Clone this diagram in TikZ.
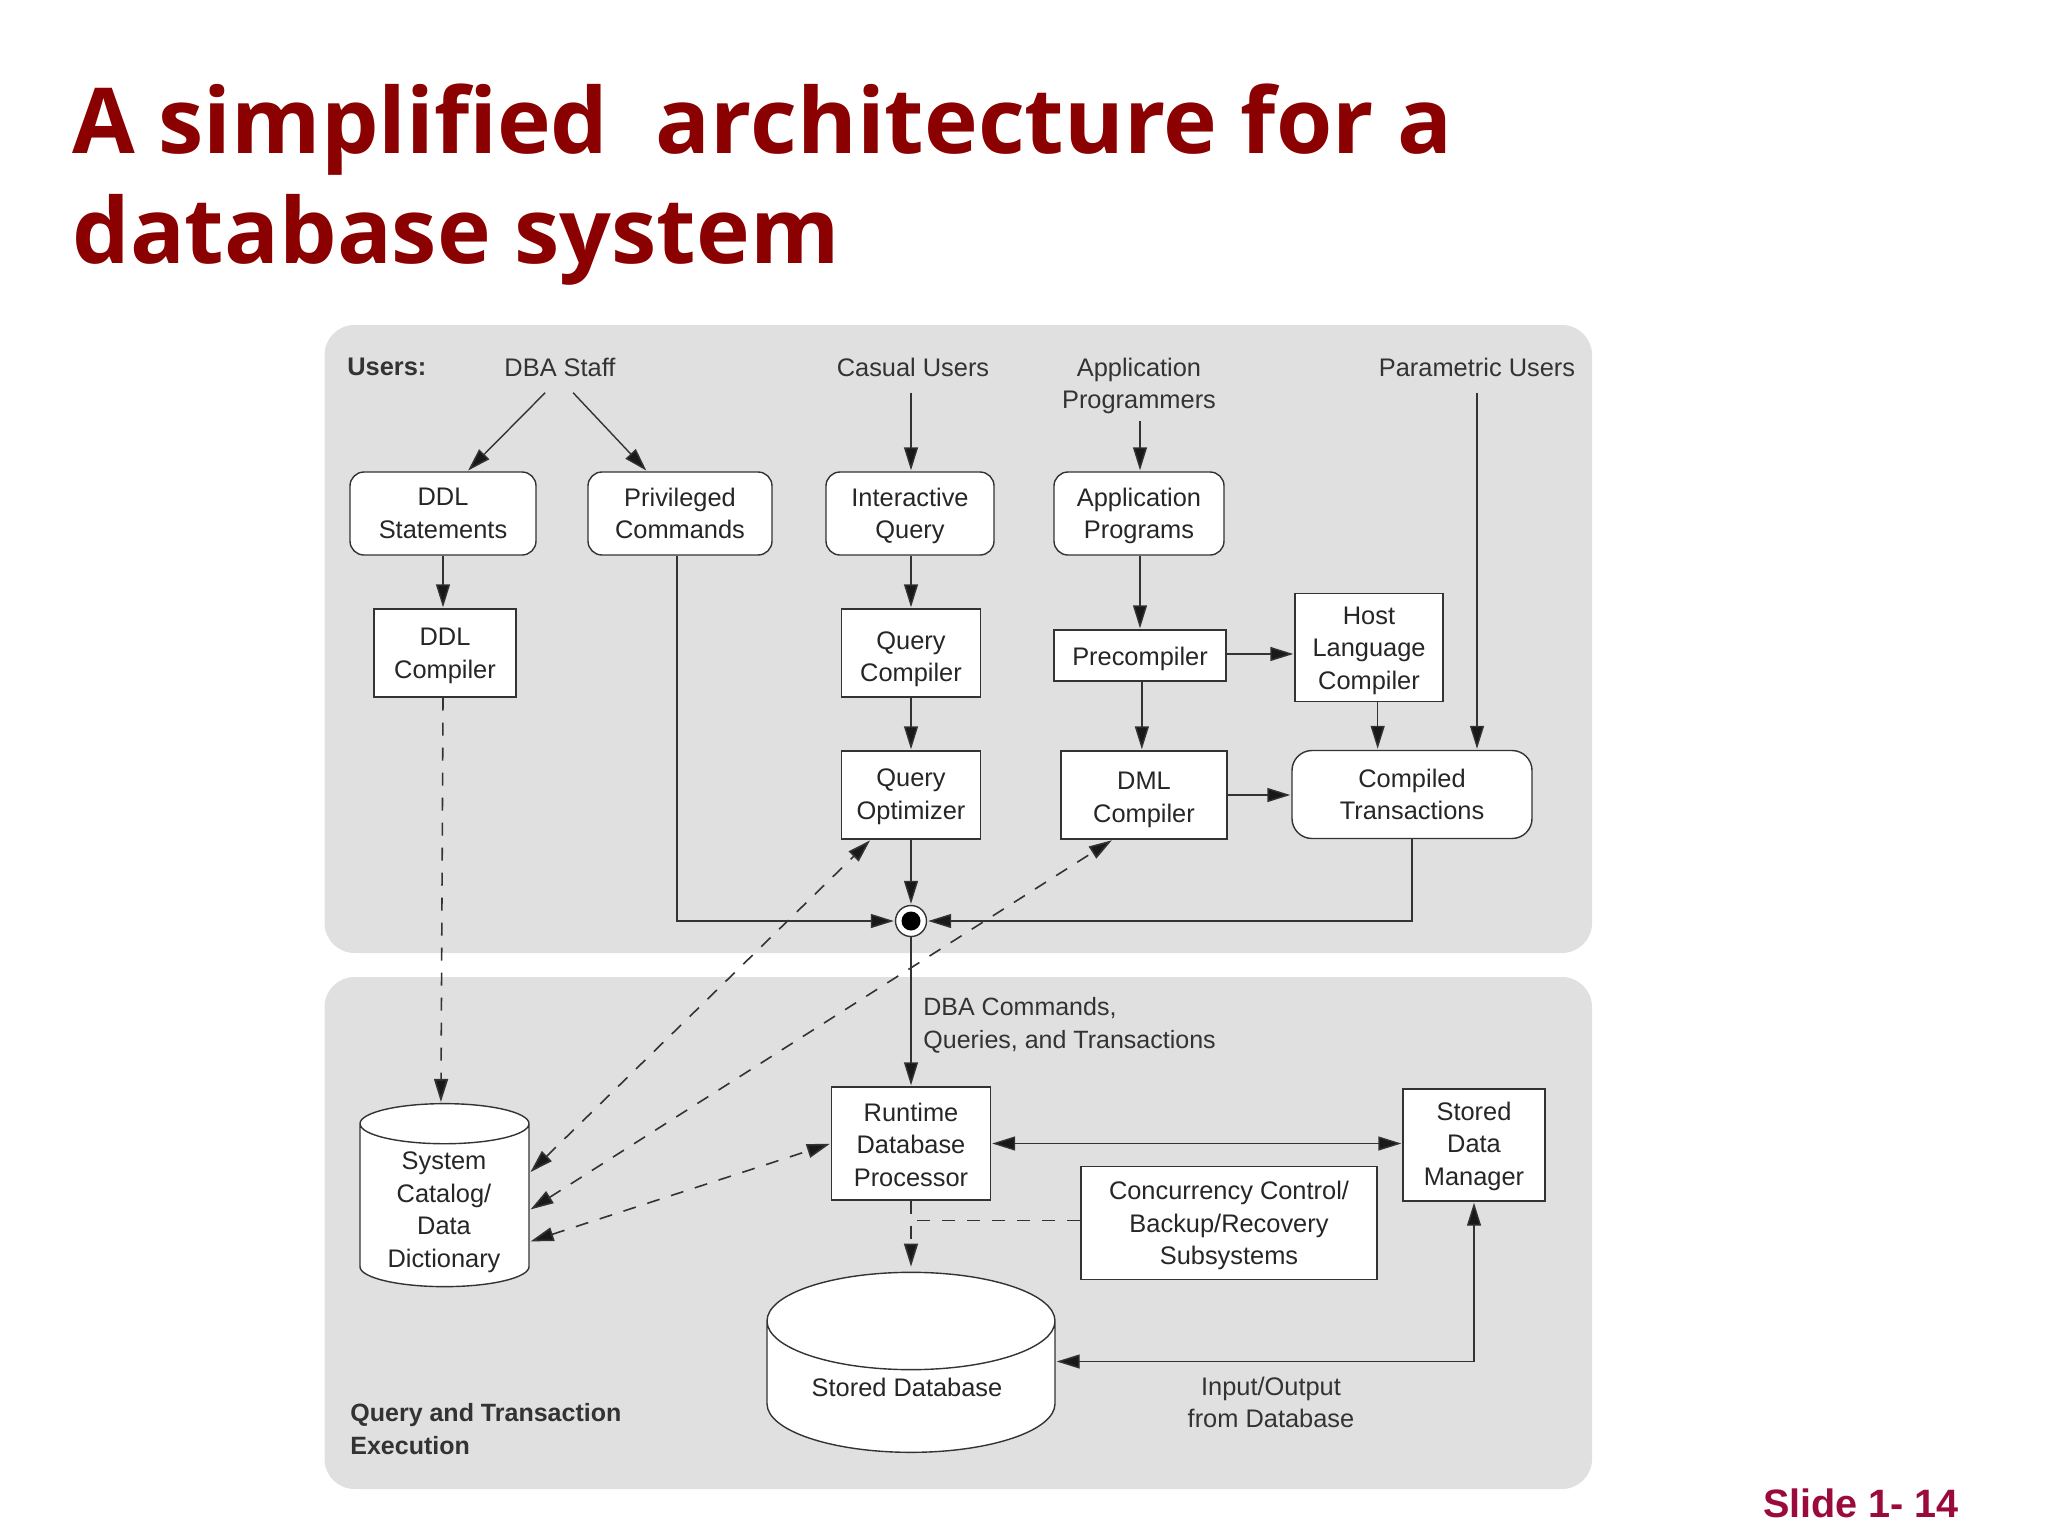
\documentclass[tikz,border=0pt]{standalone}
\usepackage{fontspec}
\setmainfont{Liberation Sans}
\newfontfamily\titlefont{Open Sans}
\usetikzlibrary{arrows.meta,shapes.geometric}

\definecolor{panelgray}{HTML}{E0E0E0}
\definecolor{inkgray}{HTML}{333333}
\definecolor{titlered}{HTML}{8B0000}
\definecolor{sliderose}{HTML}{9B0A3C}

\begin{document}
\begin{tikzpicture}[
    x=0.5pt, y=-0.5pt,
    >={Triangle[length=11.5pt,width=7pt,fill=black!90]},
    panel/.style={fill=panelgray, rounded corners=15pt},
    titletext/.style={
        anchor=base west, inner sep=0pt, text=titlered,
        font=\titlefont\bfseries\fontsize{45.5}{55}\selectfont
    },
    lbl/.style={
        align=center,
        text=inkgray,
        inner sep=8pt,
        font=\fontsize{12.7}{16.25}\selectfont
    },
    rbox/.style={
        draw=inkgray, fill=white, line width=0.7pt,
        rounded corners=7pt, inner sep=0pt,
        align=center, text=black!85,
        font=\fontsize{12.7}{16.25}\selectfont
    },
    sbox/.style={rbox, rounded corners=0pt},
    drop/.style={execute at begin node=\rule{0pt}{#1}},
    store/.style={
        cylinder, shape border rotate=90,
        draw=inkgray, fill=white, line width=0.7pt,
        cylinder uses custom fill, cylinder body fill=white, cylinder end fill=white,
        inner sep=0pt, align=center, text=black!85,
        font=\fontsize{12.7}{16.25}\selectfont
    },
    flow/.style={->,draw=inkgray,line width=0.7pt,shorten >=0.5pt},
    dflow/.style={flow,line width=0.8pt,dash pattern=on 6.5pt off 6pt}
]
\useasboundingbox (0,0) rectangle (2048,1536);

% Panels
\fill[panel] (324.5,325) rectangle (1592,953);
\fill[panel] (324.5,977) rectangle (1592,1489);

% Title
\node[titletext] (titleone) at (72,153.5) {A simplified~~architecture for a};
\node[titletext] (titletwo) at (72,263) {database system};
\node[inner sep=0pt, text=sliderose, font=\bfseries\fontsize{19.8}{24}\selectfont] (slideno) at (1861,1503) {Slide 1- 14};

% Users
\node[lbl, anchor=west, inner xsep=0pt, font=\bfseries\fontsize{12.7}{16.25}\selectfont] (users) at (347,367) {Users:};
\node[lbl] (dba) at (560,367) {DBA Staff};
\node[lbl] (casual) at (913,367) {Casual Users};
\node[lbl, inner ysep=3.5pt] (appuser) at (1139,386) {Application\\Programmers};
\node[lbl] (param) at (1477,367) {Parametric Users};

% Upper boxes
\node[rbox, minimum width=93pt, minimum height=41.5pt] (ddlstmt) at (443,513.5) {DDL\\Statements};
\node[rbox, minimum width=92pt, minimum height=41.5pt] (priv) at (680,513.5) {Privileged\\Commands};
\node[rbox, drop=28pt, minimum width=84pt, minimum height=41.5pt] (interq) at (910,513.5) {Interactive\\Query};
\node[rbox, drop=28pt, minimum width=85pt, minimum height=41.5pt] (appprog) at (1139,513.5) {Application\\Programs};
\node[sbox, drop=28pt, minimum width=71pt, minimum height=44pt] (ddlcomp) at (445,653) {DDL\\Compiler};
\node[sbox, drop=31.2pt, minimum width=69.5pt, minimum height=44pt] (qcomp) at (911,653) {Query\\Compiler};
\node[sbox, drop=26.7pt, minimum width=69.5pt, minimum height=44pt] (qopt) at (911,795) {Query\\Optimizer};
\node[sbox, drop=13pt, minimum width=86pt, minimum height=25.5pt] (precomp) at (1140,655.5) {Precompiler};
\node[sbox, drop=44.3pt, minimum width=74pt, minimum height=54pt] (host) at (1369,647.5) {Host\\Language\\Compiler};
\node[sbox, drop=30pt, minimum width=83pt, minimum height=44pt] (dmlc) at (1144,795) {DML\\Compiler};
\node[rbox, rounded corners=10pt, minimum width=120pt, minimum height=44pt] (compiled) at (1412,794.5) {Compiled\\Transactions};
\node[circle, draw=inkgray, fill=white, line width=0.7pt, inner sep=0pt, minimum size=15.5pt] (hub) at (911,921) {};
\node[circle, fill=black, inner sep=0pt, minimum size=9.5pt] (hubdot) at (911,921) {};

% Lower boxes
\node[sbox, drop=43pt, minimum width=79.5pt, minimum height=56.5pt] (runtime) at (911,1143.5) {Runtime\\Database\\Processor};
\node[sbox, drop=43pt, minimum width=71pt, minimum height=56pt] (mgr) at (1474,1145) {Stored\\Data\\Manager};
\node[sbox, drop=44.3pt, minimum width=148pt, minimum height=56.5pt] (conc) at (1229,1223) {Concurrency Control/\\Backup/Recovery\\Subsystems};
\node[store, aspect=0.355, minimum width=84.5pt, minimum height=91.5pt] (catalog) at (444.5,1205.5) {\phantom{Dictionary}};
\node[inner sep=0pt, align=center, text=black!85, font=\fontsize{12.7}{16.25}\selectfont] (catalogtxt) at (444,1212) {System\\Catalog/\\Data\\Dictionary};
\node[store, aspect=0.49, minimum width=144pt, minimum height=90pt] (storedb) at (911,1387) {Stored Database\hspace*{4pt}};

% Lower labels
\node[lbl, anchor=west, inner xsep=0pt, align=left, font=\fontsize{12.5}{16.25}\selectfont] (cmds) at (923,1025.5) {DBA Commands,\\Queries, and Transactions};
\node[lbl] (io) at (1271,1402.5) {Input/Output\\from Database};
\node[lbl, anchor=west, inner xsep=0pt, align=left, font=\bfseries\fontsize{12.5}{16.25}\selectfont] (qte) at (350,1429) {Query and Transaction\\Execution};

% Edges
\draw[flow] (dba.240) -- (ddlstmt.60);
\draw[flow] (dba.297.5) -- (priv.128.5);
\draw[flow] (casual.south -| hub.north) -- (interq.north -| hub.north);
\draw[flow] (appuser.south -| precomp.north) -- (appprog.north -| precomp.north);
\draw[flow] (ddlstmt.south) -- (ddlstmt.south |- ddlcomp.north);
\draw[flow] (interq.south -| hub.north) -- (qcomp.north);
\draw[flow] (qcomp.south) -- (qopt.north);
\draw[flow] (qopt.south) -- (hub.north);
\draw[flow] (appprog.south -| precomp.north) -- (precomp.north);
\draw[flow] (precomp.1.7) -- (precomp.1.7 -| host.west);
\draw[flow] (precomp.274.5) -- (precomp.274.5 |- dmlc.north);
\draw[flow] (host.279.5) -- (host.279.5 |- compiled.north);
\draw[flow] (param.south) -- (param.south |- compiled.north);
\draw[flow] (dmlc.east) -- (dmlc.east -| compiled.west);
\draw[flow] (priv.266.5) |- (hub.west);
\draw[flow] (compiled.south) |- (hub.east);
\draw[flow] (hub.south) -- (runtime.north);
\draw[flow, <->, shorten <=0.5pt] (runtime.east) -- (runtime.east -| mgr.west);
\draw[flow, <->, shorten <=0.5pt] (storedb.10.2) -| (mgr.south);

% Dashed edges
\draw[dflow] (ddlcomp.south -| ddlstmt.south) -- (catalog.92);
\draw[dflow, <->, shorten <=0.5pt] (catalog.21.2) -- (qopt.228);
\draw[dflow, <->, shorten <=0.5pt] (catalog.357.7) -- (dmlc.235);
\draw[dflow, <->, shorten <=0.5pt] (catalog.337.7) -- (runtime.west);
\draw[dflow, shorten >=2.5pt] (runtime.south) -- (storedb.north);
\draw[draw=inkgray, line width=0.8pt, dash pattern=on 6.5pt off 6pt] (conc.179.2) -- (conc.179.2 -| runtime.south);

\end{tikzpicture}
\end{document}
